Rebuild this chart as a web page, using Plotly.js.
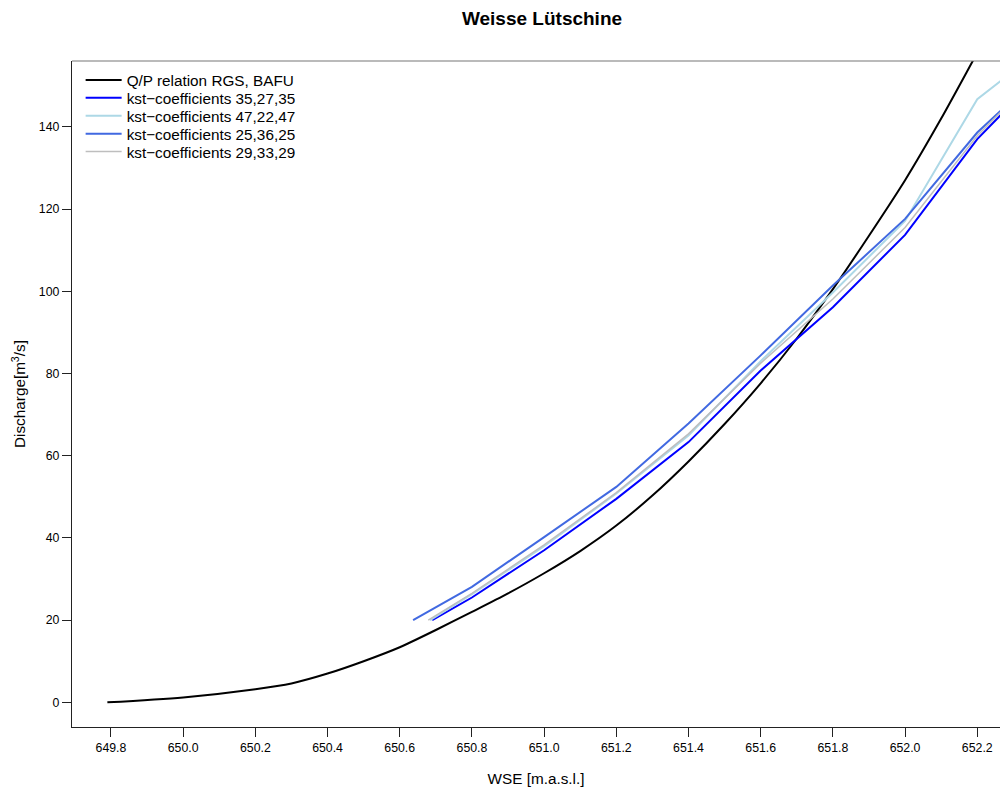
<!DOCTYPE html>
<html>
<head>
<meta charset="utf-8">
<script src="https://cdn.plot.ly/plotly-3.0.1.min.js"></script>
<style>html,body{margin:0;padding:0;background:#fff;overflow:hidden;}</style>
</head>
<body>
<div id="chart" style="width:1000px;height:787px;"></div>
<script>
// Q/P relation RGS, BAFU (black)
const rgsX = [649.79, 650.0, 650.2, 650.3, 650.4, 650.5, 650.6, 650.7, 650.8, 650.9, 651.0, 651.1, 651.2, 651.3, 651.4, 651.5, 651.6, 651.7, 651.8, 651.9, 652.0, 652.1, 652.2, 652.3];
const rgsY = [0, 1.2, 3.2, 4.6, 7.0, 10.0, 13.4, 17.6, 22.0, 26.5, 31.4, 36.8, 43.0, 50.3, 58.6, 67.7, 77.6, 88.5, 100.5, 113.5, 127.0, 142.0, 158.0, 174.0];

// kst-coefficient model runs
const kstX1 = [650.690, 650.8, 651.0, 651.2, 651.4, 651.6, 651.8, 652.0, 652.2, 652.27];
const kstY1 = [20, 25.5, 37.0, 49.5, 63.3, 80.7, 96.1, 113.7, 137.0, 143.3];   // 35,27,35
const kstX2 = [650.684, 650.8, 651.0, 651.2, 651.4, 651.6, 651.8, 652.0, 652.2, 652.27];
const kstY2 = [20, 26.3, 38.0, 50.8, 64.9, 83.0, 99.7, 117.1, 146.7, 151.5];   // 47,22,47
const kstX3 = [650.637, 650.8, 651.0, 651.2, 651.4, 651.6, 651.8, 652.0, 652.2, 652.27];
const kstY3 = [20, 28.1, 40.2, 52.4, 67.8, 84.4, 101.4, 117.6, 138.6, 144.3];  // 25,36,25
const kstX4 = [650.679, 650.8, 651.0, 651.2, 651.4, 651.6, 651.8, 652.0, 652.2, 652.27];
const kstY4 = [20, 26.5, 38.3, 51.0, 65.3, 82.5, 98.1, 115.5, 137.8, 144.0];   // 29,33,29

const seriesNames = ["Q/P relation RGS, BAFU", "kst\u2212coefficients 35,27,35", "kst\u2212coefficients 47,22,47", "kst\u2212coefficients 25,36,25", "kst\u2212coefficients 29,33,29"];
const seriesColors = ["#000000", "#0000FF", "#ADD8E6", "#4169E1", "#BEBEBE"];
const xTicks = [649.8, 650.0, 650.2, 650.4, 650.6, 650.8, 651.0, 651.2, 651.4, 651.6, 651.8, 652.0, 652.2];
const yTicks = [0, 20, 40, 60, 80, 100, 120, 140];

const font = "Liberation Sans, Arial, Helvetica, sans-serif";
const legendIds = ["legend", "legend2", "legend3", "legend4", "legend5"];
const mk = (i, x, y, w, shape) => ({x, y, name: seriesNames[i], type: "scatter", mode: "lines",
  line: {color: seriesColors[i], width: w, shape: shape || "linear", smoothing: 0.8}, legend: legendIds[i]});

const traces = [
  mk(0, rgsX, rgsY, 2, "spline"),
  mk(1, kstX1, kstY1, 2),
  mk(2, kstX2, kstY2, 2),
  mk(3, kstX3, kstY3, 2),
  mk(4, kstX4, kstY4, 1.5)
];

const layout = {
  width: 1000, height: 787,
  margin: {l: 72, r: 0, t: 61, b: 60},
  paper_bgcolor: "#fff", plot_bgcolor: "#fff",
  font: {family: font, color: "#000"},
  title: {text: "<b>Weisse Lütschine</b>", font: {size: 19, family: font}, x: 0.542, xref: "container", xanchor: "center", y: 0.977, yref: "container", yanchor: "middle"},
  xaxis: {
    range: [649.692, 652.263], tickvals: xTicks, ticktext: xTicks.map(v => v.toFixed(1)),
    showgrid: false, zeroline: false, showline: true, linecolor: "#222", linewidth: 1.2,
    ticks: "outside", ticklen: 9, tickcolor: "#222", tickwidth: 1,
    tickfont: {size: 12.3, family: font},
    title: {text: "WSE [m.a.s.l.]", font: {size: 15.3, family: font}, standoff: 19}
  },
  yaxis: {
    range: [-6, 156], tickvals: yTicks, ticktext: yTicks.map(String),
    showgrid: false, zeroline: false, showline: true, linecolor: "#222", linewidth: 1.2,
    ticks: "outside", ticklen: 9, tickcolor: "#222", tickwidth: 1,
    tickfont: {size: 12.3, family: font},
    title: {text: "Discharge[m<sup>3</sup>/s]", font: {size: 15.3, family: font}, standoff: 9}
  },
  shapes: [{type: "line", xref: "paper", yref: "paper", x0: 0, x1: 1, y0: 1, y1: 1, line: {color: "#777", width: 1.2}}],
  showlegend: true
};

// one legend per row so the row spacing matches the reference
const rowPx = [80, 97.9, 115.8, 133.7, 151.6];
legendIds.forEach((id, i) => {
  layout[id] = {x: 0.0093, y: (727 - rowPx[i]) / 666, xanchor: "left", yanchor: "middle",
    bgcolor: "rgba(0,0,0,0)", font: {size: 15.3, family: font}, itemwidth: 36};
});

Plotly.newPlot("chart", traces, layout, {displayModeBar: false, staticPlot: true});
</script>
</body>
</html>
